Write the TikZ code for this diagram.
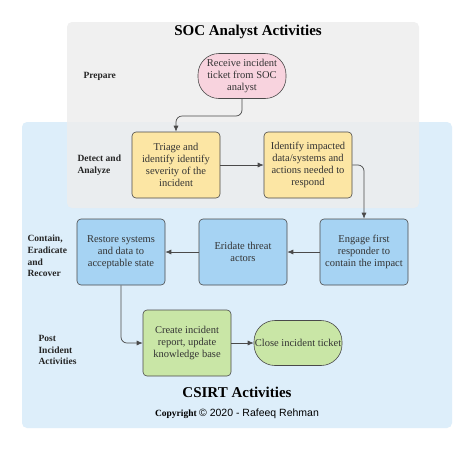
\documentclass[tikz,border=0pt]{standalone}
\usepackage{fontspec}
\setmainfont{Liberation Serif}
\newfontfamily\sansletra{Liberation Sans}
\usetikzlibrary{arrows.meta}
\definecolor{fondogris}{HTML}{EDEDED}
\definecolor{fondoazul}{HTML}{DDEEFA}
\definecolor{rosa}{HTML}{F8D3DE}
\definecolor{amarillo}{HTML}{FCE6A4}
\definecolor{azul}{HTML}{A6D3F3}
\definecolor{verde}{HTML}{C9E6A6}
\definecolor{borde}{HTML}{4A4A4A}
\tikzset{
    caja/.style={draw=borde, rounded corners=4pt, minimum width=88pt, minimum height=66pt,
        align=center, inner sep=0pt, line width=0.6pt,
        font=\fontsize{10.5}{12.2}\selectfont, text=black!80},
    terminal/.style={caja, rounded corners=21pt, minimum height=45pt},
    fase/.style={align=left, anchor=west, font=\fontsize{9.5}{11.7}\selectfont\bfseries, text=black!85},
    flecha/.style={draw=borde, line width=0.7pt, -{Latex[length=6pt,width=5pt]}, rounded corners=6pt},
}
\begin{document}
\begin{tikzpicture}[x=1pt,y=-1pt]
\useasboundingbox (0,0) rectangle (474,451);
\fill[white] (0,0) rectangle (474,451);
% zonas de fondo
\fill[fondoazul, rounded corners=5pt] (22,122) rectangle (452,428);
\fill[fondogris, opacity=0.82, rounded corners=5pt] (67,22) rectangle (419,208);
% titulos
\node (tituloSOC) at (248,32) {\fontsize{15}{17}\selectfont\bfseries SOC Analyst Activities};
\node (tituloCSIRT) at (237,392) {\fontsize{15}{17}\selectfont\bfseries CSIRT Activities};
\node (copia) at (237,414) {\fontsize{9.5}{12}\selectfont\textbf{Copyright} {\sansletra\fontsize{10.5}{13}\selectfont\textcopyright{} 2020 - Rafeeq Rehman}};
% fases
\node[fase] (preparar) at (80,76) {Prepare};
\node[fase] (detectar) at (74,165) {Detect and\\Analyze};
\node[fase] (contener) at (24,256) {Contain,\\Eradicate\\and\\Recover};
\node[fase] (posterior) at (35,350) {Post\\Incident\\Activities};
% pasos
\node[terminal, fill=rosa] (recibir) at (242,76) {Receive incident\\ticket from SOC\\analyst};
\node[caja, fill=amarillo] (triaje) at (176,165) {Triage and\\identify identify\\severity of the\\incident};
\node[caja, fill=amarillo] (impacto) at (308,165) {Identify impacted\\data/systems and\\actions needed to\\respond};
\node[caja, fill=azul] (primer) at (364,252) {Engage first\\responder to\\contain the impact};
\node[caja, fill=azul] (erradicar) at (243,252) {Eridate threat\\actors};
\node[caja, fill=azul] (restaurar) at (121,252) {Restore systems\\and data to\\acceptable state};
\node[caja, fill=verde] (informe) at (187,343) {Create incident\\report, update\\knowledge base};
\node[terminal, fill=verde] (cerrar) at (298,343) {Close incident ticket};
% conexiones
\draw[flecha] (recibir.south) -- (recibir.south |- 0,116) -| (triaje.north);
\draw[flecha] (triaje.east) -- (impacto.west);
\draw[flecha] (impacto.east) -| (primer.north);
\draw[flecha] (primer.west) -- (erradicar.east);
\draw[flecha] (erradicar.west) -- (restaurar.east);
\draw[flecha] (restaurar.south) |- (informe.west);
\draw[flecha] (informe.east) -- (cerrar.west);
\end{tikzpicture}
\end{document}
